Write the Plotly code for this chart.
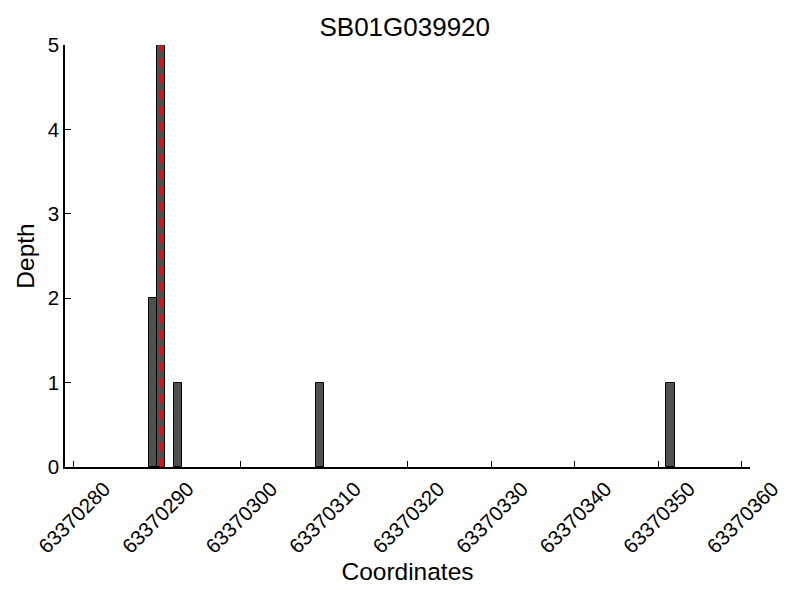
import plotly.graph_objects as go

# Data
positions = [63370289, 63370290, 63370292, 63370309, 63370351]
depths = [2, 5, 1, 1, 1]
marker_pos = 63370290.5
title = "SB01G039920"
x_ticks = [63370280, 63370290, 63370300, 63370310, 63370320, 63370330, 63370340, 63370350, 63370360]
y_ticks = [0, 1, 2, 3, 4, 5]

fig = go.Figure()
fig.add_trace(go.Bar(
    x=positions, y=depths, width=1, offset=0,
    marker=dict(color="#505050", line=dict(color="black", width=1)),
    showlegend=False,
))
fig.add_trace(go.Scatter(
    x=[marker_pos, marker_pos], y=[0, max(y_ticks)], mode="lines",
    line=dict(color="#ff0000", width=3, dash="9px,7px"),
    showlegend=False,
))

font = "Liberation Sans, Arial, sans-serif"
fig.update_layout(
    width=800, height=600,
    paper_bgcolor="white", plot_bgcolor="white",
    margin=dict(l=57, r=58, t=37, b=141),
    font=dict(family=font, color="black"),
    title=dict(text=title, x=0.496, xref="paper", xanchor="center",
               y=1 - 19 / 600, yref="container", yanchor="middle",
               font=dict(size=26, family=font, color="black")),
    bargap=0,
)
fig.update_xaxes(
    range=[63370279, 63370361], tickvals=x_ticks, ticktext=[str(v) for v in x_ticks],
    tickangle=-45, ticks="inside", ticklen=6, tickcolor="black",
    ticklabelshift=31, ticklabelstandoff=0,
    showline=True, linecolor="black", linewidth=1.5, showgrid=False, zeroline=False,
    automargin=False,
    tickfont=dict(size=20.5), title=dict(text="Coordinates", font=dict(size=24.5), standoff=0),
)
fig.update_yaxes(
    range=[0, 5], tickvals=y_ticks, ticks="inside", ticklen=6, tickcolor="black",
    ticklabelstandoff=0,
    showline=True, linecolor="black", linewidth=1.5, showgrid=False, zeroline=False,
    automargin=False,
    tickfont=dict(size=20.5), title=dict(text="Depth", font=dict(size=24.5), standoff=6),
)
fig.write_html("out.html")
